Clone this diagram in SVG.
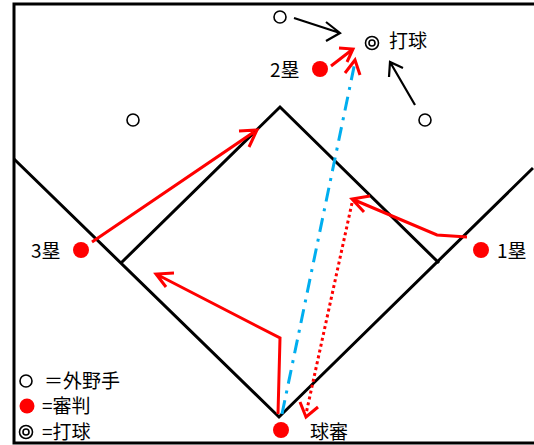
<svg xmlns="http://www.w3.org/2000/svg" width="534" height="445" viewBox="0 0 534 445">
<defs>
<style>
.field{fill:none;stroke:#000;stroke-width:3;stroke-linecap:butt}
.border{fill:none;stroke:#000;stroke-width:3}
.of{fill:#fff;stroke:#000;stroke-width:1.6}
.ump{fill:#f00;stroke:none}
.lbl{font-family:"Noto Sans CJK JP","Noto Sans",sans-serif;font-size:19px;fill:#000}
.leg{font-family:"Noto Sans CJK JP","Noto Sans",sans-serif;font-size:19px;fill:#000}
.red{fill:none;stroke:#f00;stroke-width:3}
.blk{fill:none;stroke:#000;stroke-width:2.2}
.blue{fill:none;stroke:#00aeef;stroke-width:3;stroke-dasharray:14,7,3,7}
.dot{fill:none;stroke:#f00;stroke-width:3;stroke-dasharray:3,3}
</style>
</defs>
<rect width="534" height="445" fill="#fff"/>
<g id="frame">
<polyline class="border" points="534,4 14,4 14,443 534,443"/>
</g>
<g id="field">
<polyline class="field" points="14,159 279,417 533,168"/>
<polyline class="field" points="121,263 280,107 439,263"/>
</g>
<g id="connectors">
<path class="blk" d="M294,18 L340,33 M326,22 L340,33 L326,41"/>
<path class="blk" d="M415,105 L390,62 M389,77 L390,62 L403,68"/>
<path class="red" d="M331,66 L353,49 M339,48 L353,49 L347,62"/>
<path class="blue" d="M282,414 L355,62"/>
<path class="red" d="M345,73 L355,60 L360,75"/>
<path class="red" d="M92,242 L257,130 M239,131 L257,130 L249,147"/>
<path class="red" d="M278,414 L280,338 L156,274 M174,273 L156,274 L166,287"/>
<path class="red" d="M467,237 L437,235 L352,199 M370,196 L352,199 L364,212"/>
<path class="dot" d="M352,203 L306,414"/>
<path class="red" d="M300,402 L306,417 L318,407"/>
</g>
<g id="of-cf"><circle class="of" cx="280" cy="17" r="6"/></g>
<g id="of-lf"><circle class="of" cx="133" cy="120" r="6"/></g>
<g id="of-rf"><circle class="of" cx="425" cy="120" r="6"/></g>
<g id="batted-ball">
<circle class="of" cx="372" cy="43" r="6.5"/>
<circle class="of" cx="372" cy="43" r="3"/>
<text class="lbl" x="389" y="48" font-size="13">打球</text>
</g>
<g id="ump-2b">
<circle class="ump" cx="320" cy="69" r="8"/>
<text class="lbl" x="270" y="77">2塁</text>
</g>
<g id="ump-3b">
<circle class="ump" cx="81" cy="250" r="8"/>
<text class="lbl" x="31" y="258">3塁</text>
</g>
<g id="ump-1b">
<circle class="ump" cx="481" cy="250" r="8"/>
<text class="lbl" x="497" y="258">1塁</text>
</g>
<g id="ump-home">
<circle class="ump" cx="281" cy="430" r="8"/>
<text class="lbl" x="310" y="439" font-size="19">球審</text>
</g>
<g id="legend">
<circle class="of" cx="26" cy="381" r="6"/>
<text class="leg" x="44" y="388">＝外野手</text>
<circle class="ump" cx="27" cy="406" r="7.5"/>
<text class="leg" x="42" y="413">=審判</text>
<circle class="of" cx="26" cy="432" r="6.5"/>
<circle class="of" cx="26" cy="432" r="3"/>
<text class="leg" x="42" y="439">=打球</text>
</g>
</svg>
